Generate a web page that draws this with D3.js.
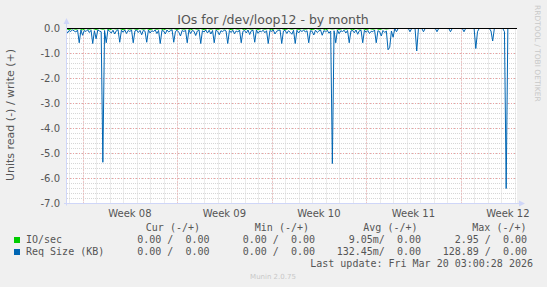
<!DOCTYPE html>
<html>
<head>
<meta charset="utf-8">
<script src="https://cdn.jsdelivr.net/npm/d3@7"></script>
<style>
  body { margin: 0; background: #f0f0f0; }
  svg { display: block; }
  text { white-space: pre; }
</style>
</head>
<body>
<svg id="chart" width="547" height="287"></svg>
<script>
// values (read side is plotted negative)
const startTime = Date.UTC(2026, 1, 14, 18, 0)   // first sample
const readStepHours = 3
const readRows = [
  [-0.04, -0.18, -0.08, -0.12, -0.05, -0.10, -0.14, -0.06],
  [-0.57, -0.06, -0.27, -0.08, -0.12, -0.05, -0.16, -0.07],
  [-0.60, -0.09, -0.41, -0.06, -0.10, -0.13, -5.35, -0.08],
  [-0.57, -0.05, -0.12, -0.18, -0.07, -0.22, -0.09, -0.05],
  [-0.55, -0.07, -0.15, -0.06, -0.20, -0.08, -0.12, -0.06],
  [-0.57, -0.10, -0.06, -0.16, -0.08, -0.25, -0.07, -0.11],
  [-0.55, -0.06, -0.18, -0.09, -0.12, -0.06, -0.20, -0.08],
  [-0.60, -0.08, -0.10, -0.22, -0.06, -0.14, -0.09, -0.05],
  [-0.55, -0.12, -0.07, -0.15, -0.30, -0.08, -0.12, -0.07],
  [-0.57, -0.06, -0.20, -0.08, -0.11, -0.28, -0.10, -0.06],
  [-0.60, -0.09, -0.14, -0.06, -0.18, -0.07, -0.22, -0.08],
  [-0.57, -0.07, -0.11, -0.25, -0.09, -0.13, -0.06, -0.10],
  [-0.60, -0.08, -0.16, -0.07, -0.21, -0.10, -0.14, -0.06],
  [-0.57, -0.11, -0.08, -0.18, -0.06, -0.24, -0.09, -0.07],
  [-0.55, -0.06, -0.19, -0.10, -0.13, -0.07, -0.17, -0.09],
  [-0.60, -0.08, -0.12, -0.06, -0.22, -0.11, -0.08, -0.06],
  [-0.60, -0.10, -0.07, -0.20, -0.09, -0.15, -0.23, -0.07],
  [-0.60, -0.07, -0.18, -0.08, -0.12, -0.06, -0.14, -0.09],
  [-0.57, -0.09, -0.11, -0.26, -0.07, -0.16, -0.10, -0.06],
  [-0.27, -0.08, -0.14, -0.07, -0.19, -0.10, -5.40, -0.09],
  [-0.57, -0.06, -0.21, -0.09, -0.12, -0.07, -0.18, -0.08],
  [-0.57, -0.10, -0.08, -0.17, -0.06, -0.23, -0.09, -0.07],
  [-0.57, -0.07, -0.15, -0.08, -0.20, -0.11, -0.13, -0.06],
  [-0.57, -0.09, -0.12, -0.30, -0.08, -0.16, -0.10, -0.85],
  [-0.75, -0.10, -0.35, 0, -0.13, 0, 0, 0],
  [0, 0, 0, 0, -0.13, 0, 0, 0],
  [-0.90, 0, 0, 0, -0.13, 0, 0, 0],
  [0, 0, 0, 0, -0.13, 0, 0, 0],
  [0, 0, 0, 0, -0.13, 0, 0, 0],
  [0, 0, 0, 0, -0.13, 0, 0, 0],
  [0, 0, 0, -0.80, -0.13, 0, 0, 0],
  [0, 0, 0, 0, -0.10, -0.50, 0, 0],
  [0, 0, 0, 0, -0.13, -6.40, 0, 0],
  [0, 0, 0, 0, 0, 0, 0, 0]
]
const ioStepHours = 6
const ioRows = [
  [0, -0.05, 0, -0.03], [0, -0.05, 0, -0.03], [0, -0.04, 0, -0.03], [0, -0.05, 0, -0.02],
  [0, -0.05, 0, -0.03], [0, -0.04, 0, -0.03], [0, -0.05, 0, -0.03], [0, -0.05, 0, -0.02],
  [0, -0.04, 0, -0.03], [0, -0.05, 0, -0.03], [0, -0.05, 0, -0.03], [0, -0.04, 0, -0.02],
  [0, -0.05, 0, -0.03], [0, -0.05, 0, -0.03], [0, -0.04, 0, -0.03], [0, -0.05, 0, -0.02],
  [0, -0.05, 0, -0.03], [0, -0.04, 0, -0.03], [0, -0.05, 0, -0.03], [0, -0.05, 0, -0.02],
  [0, -0.04, 0, -0.03], [0, -0.05, 0, -0.03], [0, -0.05, 0, -0.03], [0, -0.04, 0, -0.02],
  [0, 0, 0, 0], [0, 0, 0, 0], [0, 0, 0, 0], [0, 0, 0, 0], [0, 0, 0, 0],
  [0, 0, 0, 0], [0, 0, 0, 0], [0, 0, 0, 0], [0, 0, 0, 0], [0, 0, 0, 0]
]

const yTicks = [0, -1, -2, -3, -4, -5, -6, -7]
const yTickLabels = ["0.0", "-1.0", "-2.0", "-3.0", "-4.0", "-5.0", "-6.0", "-7.0"]
const weekStarts = ["2026-02-16", "2026-02-23", "2026-03-02", "2026-03-09", "2026-03-16"]
const weekLabels = ["Week 08", "Week 09", "Week 10", "Week 11", "Week 12"]

const legendNames = ["IO/sec", "Req Size (KB)"]
const legendColors = ["#00cc00", "#0066b3"]
const legendHeaders = ["Cur (-/+)", "Min (-/+)", "Avg (-/+)", "Max (-/+)"]
const legendCur = ["0.00 /  0.00", "0.00 /  0.00"]
const legendMin = ["0.00 /  0.00", "0.00 /  0.00"]
const legendAvg = ["9.05m/  0.00", "132.45m/  0.00"]
const legendMax = ["2.95 /  0.00", "128.89 /  0.00"]

const plot = {left: 67, right: 517, top: 28.5, bottom: 203.5}
const fontColor = "#555"
const axisColor = "#cfd6f8"

let x = d3.scaleUtc()
    .domain([new Date(Date.UTC(2026, 1, 14, 20, 15)), new Date(Date.UTC(2026, 2, 20, 4, 15))])
    .range([plot.left, plot.right])
let y = d3.scaleLinear()
    .domain([-7, 0])
    .range([plot.bottom, plot.top])

function toPoints(rows, stepHours) {
  let pts = []
  rows.flat().forEach(function(v, i) {
    pts.push({t: new Date(startTime + i * stepHours * 3600e3), v: v})
  })
  return pts
}
let readData = toPoints(readRows, readStepHours)
let ioData = toPoints(ioRows, ioStepHours)

let svg = d3.select("#chart")
svg.append("rect").attr("width", 547).attr("height", 287).attr("fill", "#f0f0f0")
svg.append("rect")
    .attr("x", plot.left).attr("y", plot.top)
    .attr("width", plot.right - plot.left).attr("height", plot.bottom - plot.top)
    .attr("fill", "#fff")

svg.append("clipPath").attr("id", "clip")
  .append("rect")
    .attr("x", plot.left).attr("y", plot.top - 1)
    .attr("width", plot.right - plot.left).attr("height", plot.bottom - plot.top + 1)

// minor grid: every day / every 0.2
let days = d3.utcDay.range(x.domain()[0], x.domain()[1])
let grid = svg.append("g")
grid.selectAll(".vminor").data(days).enter().append("line")
    .attr("x1", d => Math.round(x(d)) + 0.5).attr("x2", d => Math.round(x(d)) + 0.5)
    .attr("y1", plot.top).attr("y2", plot.bottom)
    .attr("stroke", "#d6d6d6").attr("stroke-dasharray", "1,1")
let minorY = d3.range(0, 36).map(i => -i * 0.2)
grid.selectAll(".hminor").data(minorY).enter().append("line")
    .attr("x1", plot.left).attr("x2", plot.right)
    .attr("y1", d => Math.round(y(d) - 0.5) + 0.5).attr("y2", d => Math.round(y(d) - 0.5) + 0.5)
    .attr("stroke", "#d6d6d6").attr("stroke-dasharray", "1,1")
// major grid
grid.selectAll(".vmajor").data(weekStarts).enter().append("line")
    .attr("x1", d => Math.round(x(new Date(d + "T00:00Z"))) + 0.5)
    .attr("x2", d => Math.round(x(new Date(d + "T00:00Z"))) + 0.5)
    .attr("y1", plot.top).attr("y2", plot.bottom)
    .attr("stroke", "#eea0a0").attr("stroke-dasharray", "1,2")
grid.selectAll(".hmajor").data(yTicks).enter().append("line")
    .attr("x1", plot.left).attr("x2", plot.right)
    .attr("y1", d => y(d)).attr("y2", d => y(d))
    .attr("stroke", "#eea0a0").attr("stroke-dasharray", "1,2")

let line = d3.line()
    .x(d => x(d.t))
    .y(d => y(d.v))

let series = svg.append("g").attr("clip-path", "url(#clip)")
series.append("path").datum(ioData)
    .attr("d", line).attr("fill", "none")
    .attr("stroke", legendColors[0]).attr("stroke-width", 1)
series.append("path").datum(readData)
    .attr("d", line).attr("fill", "none")
    .attr("stroke", legendColors[1]).attr("stroke-width", 1)
    .attr("stroke-linejoin", "miter")

// zero rule
svg.append("line")
    .attr("x1", plot.left).attr("x2", plot.right)
    .attr("y1", y(0)).attr("y2", y(0))
    .attr("stroke", "#000").attr("stroke-width", 1)

// axes with arrows
svg.append("line")
    .attr("x1", plot.left - 0.5).attr("x2", plot.left - 0.5)
    .attr("y1", plot.bottom + 2).attr("y2", 22)
    .attr("stroke", axisColor)
svg.append("path")
    .attr("d", "M63.5,24 L66.5,18 L69.5,24 Z")
    .attr("fill", axisColor)
svg.append("line")
    .attr("x1", plot.left - 3).attr("x2", 521)
    .attr("y1", plot.bottom).attr("y2", plot.bottom)
    .attr("stroke", axisColor)
svg.append("path")
    .attr("d", "M519,200.5 L525,203.5 L519,206.5 Z")
    .attr("fill", axisColor)

// axis labels
svg.selectAll(".ytick").data(yTicks).enter().append("text")
    .attr("x", 60).attr("y", d => y(d) + 3.5)
    .attr("text-anchor", "end")
    .style("font", "10px 'DejaVu Sans'").style("fill", fontColor)
    .text((d, i) => yTickLabels[i])
svg.selectAll(".xtick").data(weekStarts).enter().append("text")
    .attr("x", d => x(d3.utcHour.offset(new Date(d + "T00:00Z"), 84)))
    .attr("y", 217)
    .attr("text-anchor", "middle")
    .style("font", "10px 'DejaVu Sans'").style("fill", fontColor)
    .text((d, i) => weekLabels[i])

svg.append("text")
    .attr("x", 273).attr("y", 24)
    .attr("text-anchor", "middle")
    .style("font", "12.5px 'DejaVu Sans'").style("fill", fontColor)
    .text("IOs for /dev/loop12 - by month")
svg.append("text")
    .attr("transform", "translate(14,115) rotate(-90)")
    .attr("text-anchor", "middle")
    .style("font", "11px 'DejaVu Sans'").style("fill", fontColor)
    .text("Units read (-) / write (+)")
svg.append("text")
    .attr("transform", "translate(534.5,5) rotate(90)")
    .style("font", "7.5px 'DejaVu Sans'").style("fill", "#c8c8c8")
    .text("RRDTOOL / TOBI OETIKER")

// legend
let mono = "10px 'DejaVu Sans Mono'"
let headerRight = [200, 309, 417.5, 526.5]
let colRight = [209.5, 315, 421, 527]
svg.selectAll(".lhead").data(legendHeaders).enter().append("text")
    .attr("x", (d, i) => headerRight[i]).attr("y", 231)
    .attr("text-anchor", "end")
    .style("font", mono).style("fill", fontColor)
    .text(d => d)
legendNames.forEach(function(name, r) {
  let yy = 243 + r * 12
  svg.append("rect")
      .attr("x", 14).attr("y", yy - 6).attr("width", 6).attr("height", 6)
      .attr("fill", legendColors[r])
  svg.append("text")
      .attr("x", 26).attr("y", yy)
      .style("font", mono).style("fill", fontColor)
      .text(name)
  let vals = [legendCur[r], legendMin[r], legendAvg[r], legendMax[r]]
  vals.forEach(function(v, c) {
    svg.append("text")
        .attr("x", colRight[c]).attr("y", yy)
        .attr("text-anchor", "end")
        .style("font", mono).style("fill", fontColor)
        .text(v)
  })
})
svg.append("text")
    .attr("x", 533).attr("y", 267)
    .attr("text-anchor", "end")
    .style("font", mono).style("fill", fontColor)
    .text("Last update: Fri Mar 20 03:00:28 2026")
svg.append("text")
    .attr("x", 273).attr("y", 279)
    .attr("text-anchor", "middle")
    .style("font", "7px 'DejaVu Sans'").style("fill", "#c8c8c8")
    .text("Munin 2.0.75")
</script>
</body>
</html>
